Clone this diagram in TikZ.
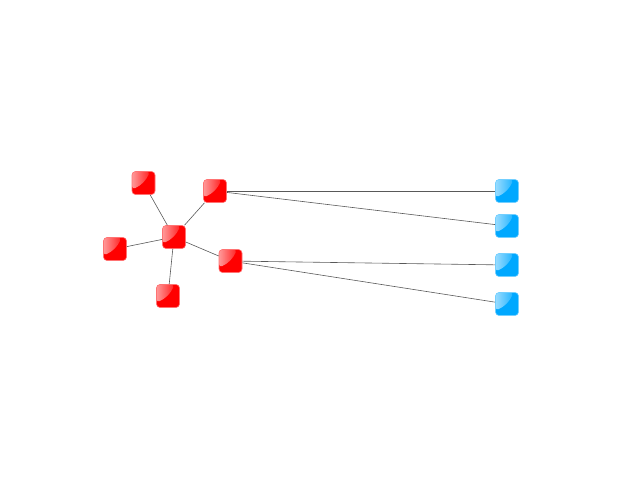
\documentclass[tikz,border=0pt]{standalone}
\definecolor{skyblue}{RGB}{0,168,255}
\begin{document}
\begin{tikzpicture}[x=1pt,y=-1pt,
	host/.style={rounded corners=3.5pt,minimum size=23pt,inner sep=0pt,draw=#1!55!white,line width=0.6pt,fill=#1,
		path picture={\shade[left color=white,right color=#1,opacity=0.6] (path picture bounding box.north west) -- ([xshift=-5pt]path picture bounding box.north east) .. controls ([xshift=-9pt,yshift=-9pt]path picture bounding box.north east) and ([xshift=9pt,yshift=9pt]path picture bounding box.south west) .. ([yshift=5pt]path picture bounding box.south west) -- cycle;}},
	hub/.style={host=red}, peer/.style={host=skyblue},
	link/.style={draw=black!65,line width=0.6pt}]
	\useasboundingbox (0,0) rectangle (640,480);
	%red star
	\node[hub] (C) at (174,237) {}; \node[hub] (TL) at (143.5,183) {}; \node[hub] (TR) at (215,191) {};
	\node[hub] (L) at (115,249) {}; \node[hub] (R) at (230.5,261) {}; \node[hub] (B) at (168,296) {};
	%blue column
	\node[peer] (P1) at (507,191) {}; \node[peer] (P2) at (507,226) {}; \node[peer] (P3) at (507,265) {}; \node[peer] (P4) at (507,304) {};
	
	\foreach \n in {TL,TR,L,R,B} \draw[link] (C) -- (\n);
	\draw[link] (TR) -- (P1); \draw[link] (TR) -- (P2); \draw[link] (R) -- (P3); \draw[link] (R) -- (P4);
\end{tikzpicture}
\end{document}
